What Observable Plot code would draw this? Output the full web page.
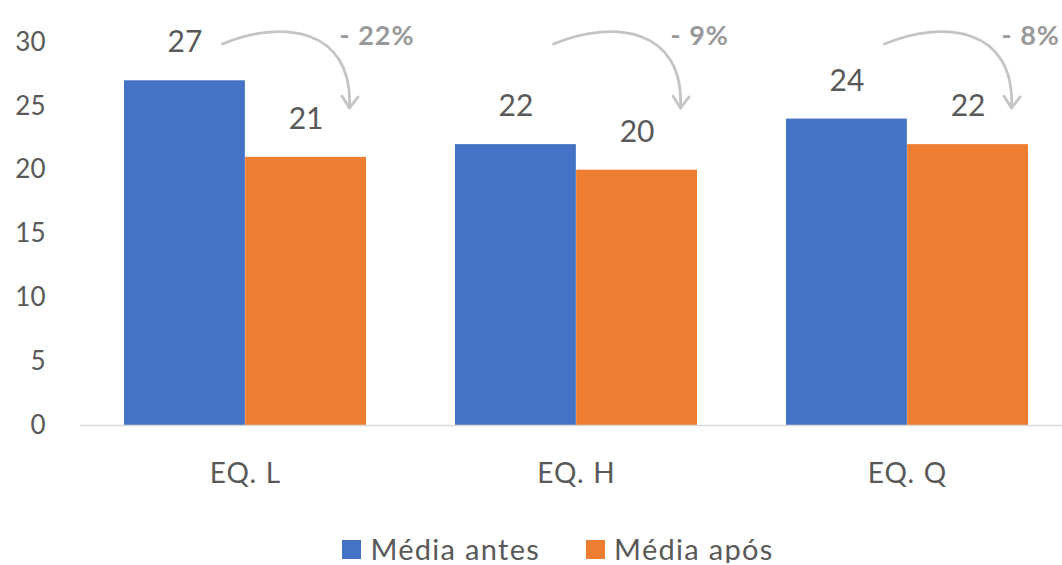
<!DOCTYPE html>
<html>
<head>
<meta charset="utf-8">
<script src="https://cdn.jsdelivr.net/npm/d3@7"></script>
<script src="https://cdn.jsdelivr.net/npm/@observablehq/plot@0.6"></script>
<style>
  html, body { margin: 0; padding: 0; background: #fff; }
  #chart { width: 1062px; }
  #chart svg g[aria-label="x-axis tick label"] text { letter-spacing: 1.2px; }
  #chart svg g.pct text { letter-spacing: 1px; }
  .legend { display: flex; justify-content: center; align-items: center; padding-left: 54px; padding-top: 15px;
    font-family: Lato, "Open Sans", sans-serif; font-size: 29px; line-height: 28px; color: #595959; letter-spacing: 1.3px; }
  .legend .item { display: flex; align-items: center; }
  .legend .item + .item { margin-left: 46px; }
  .legend .sw { width: 19px; height: 19px; margin-right: 9px; }
</style>
</head>
<body>
<div id="chart"></div>
<script>
const groups = ["EQ. L", "EQ. H", "EQ. Q"];
const antes = [27, 22, 24];
const apos = [21, 20, 22];
const pctLabels = ["- 22%", "- 9%", "- 8%"];
const yTicks = [0, 5, 10, 15, 20, 25, 30];
const seriesNames = ["Média antes", "Média após"];
const seriesColors = ["#4472c4", "#ed7d31"];

const rows = groups.map((g, i) => ({group: g, antes: antes[i], apos: apos[i], pct: pctLabels[i]}));

const W = 1062, H = 520, ML = 80, MR = 0, MT = 42, MB = 95;
const padIn = 0.27, padOut = 0.1145, align = 0.566;
const step = (W - ML - MR) / (groups.length - padIn + 2 * padOut);
const bw = step * (1 - padIn);
const labelColor = "#595959";

function arrows(index, scales) {
  const x = scales.x, y = scales.y;
  const band = x.bandwidth ? x.bandwidth() : bw;
  const g = d3.create("svg:g").attr("fill", "none").attr("stroke", "#c4c4c4")
    .attr("stroke-width", 2.8).attr("stroke-linecap", "round").attr("stroke-linejoin", "round");
  const top = y(yTicks[yTicks.length - 1]);
  rows.forEach(r => {
    const gc = x(r.group) + band / 2;
    const sx = gc - band / 4 + 38, sy = top + 2;
    const tx = gc + band / 4 + 44, ty = top + 66;
    const dx = tx - sx;
    const c1 = [sx + 0.45 * dx, sy - 24], c2 = [tx + 4, sy - 18];
    g.append("path").attr("d", `M${sx},${sy}C${c1[0]},${c1[1]} ${c2[0]},${c2[1]} ${tx},${ty}`);
    let ux = tx - c2[0], uy = ty - c2[1];
    const L = Math.hypot(ux, uy); ux /= L; uy /= L;
    const a = 35 * Math.PI / 180, len = 14;
    const arm = s => [tx - len * (ux * Math.cos(s * a) - uy * Math.sin(s * a)),
                      ty - len * (ux * Math.sin(s * a) + uy * Math.cos(s * a))];
    const p1 = arm(1), p2 = arm(-1);
    g.append("path").attr("d", `M${p1[0]},${p1[1]}L${tx},${ty}L${p2[0]},${p2[1]}`);
  });
  return g.node();
}

const plot = Plot.plot({
  width: W, height: H,
  marginLeft: ML, marginRight: MR, marginTop: MT, marginBottom: MB,
  style: {fontFamily: "Lato, 'Open Sans', sans-serif", color: labelColor, background: "#fff"},
  x: {domain: groups, paddingInner: padIn, paddingOuter: padOut, align: align},
  y: {domain: [0, 30]},
  marks: [
    Plot.barY(rows, {x: "group", y: "antes", fill: seriesColors[0], insetRight: bw / 2}),
    Plot.barY(rows, {x: "group", y: "apos", fill: seriesColors[1], insetLeft: bw / 2}),
    Plot.ruleY([0], {stroke: "#d9d9d9", strokeWidth: 1.5}),
    Plot.axisY({ticks: yTicks, tickSize: 0, tickPadding: 35, fontSize: 26, label: null}),
    Plot.axisX({tickSize: 0, tickPadding: 38, fontSize: 28, label: null}),
    Plot.text(rows, {x: "group", y: "antes", text: d => String(d.antes), dx: -bw / 4, dy: -38,
      fontSize: 30, fill: labelColor, lineAnchor: "middle"}),
    Plot.text(rows, {x: "group", y: "apos", text: d => String(d.apos), dx: bw / 4, dy: -38,
      fontSize: 30, fill: labelColor, lineAnchor: "middle"}),
    arrows,
    Plot.text(rows, {x: "group", text: "pct", frameAnchor: "top", dx: 94, dy: -6, textAnchor: "start",
      lineAnchor: "middle", fontSize: 27, fontWeight: "bold", fill: "#999999", className: "pct"})
  ]
});
document.getElementById("chart").append(plot);

const legend = document.createElement("div");
legend.className = "legend";
seriesNames.forEach((name, i) => {
  const item = document.createElement("div");
  item.className = "item";
  const sw = document.createElement("span");
  sw.className = "sw";
  sw.style.background = seriesColors[i];
  const t = document.createElement("span");
  t.textContent = name;
  item.append(sw, t);
  legend.append(item);
});
document.getElementById("chart").append(legend);
</script>
</body>
</html>
